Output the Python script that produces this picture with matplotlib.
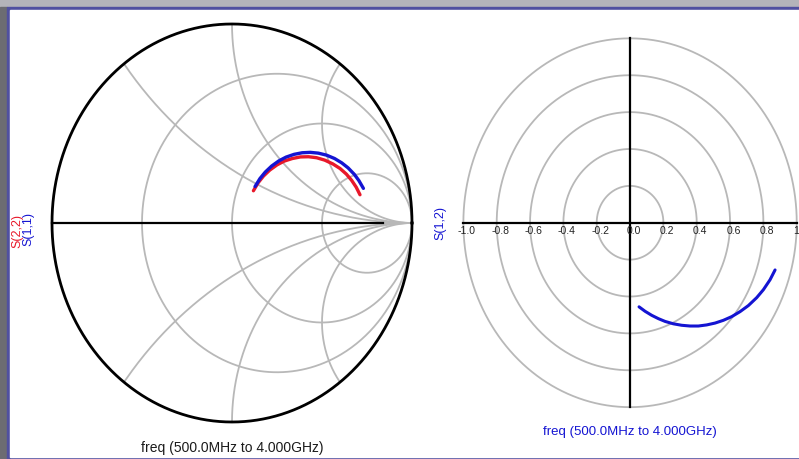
import numpy as np
from matplotlib import pyplot as plt
from matplotlib.patches import Rectangle

plt.rcParams['font.family'] = ['Liberation Sans', 'DejaVu Sans']

# S-parameter traces (reflection coefficient, re / im)
s11_re = [0.128, 0.155, 0.185, 0.220, 0.260, 0.300, 0.345, 0.390, 0.435,
          0.480, 0.525, 0.570, 0.610, 0.645, 0.680, 0.705, 0.730]
s11_im = [0.183, 0.223, 0.256, 0.286, 0.312, 0.331, 0.345, 0.353, 0.355,
          0.351, 0.341, 0.324, 0.302, 0.277, 0.244, 0.213, 0.174]
s22_re = [0.119, 0.145, 0.175, 0.210, 0.250, 0.290, 0.335, 0.380, 0.425,
          0.470, 0.515, 0.560, 0.600, 0.635, 0.665, 0.690, 0.711]
s22_im = [0.162, 0.202, 0.236, 0.266, 0.292, 0.311, 0.324, 0.332, 0.333,
          0.328, 0.316, 0.297, 0.274, 0.246, 0.214, 0.180, 0.142]
s12_re = [0.054, 0.090, 0.130, 0.170, 0.210, 0.260, 0.310, 0.360, 0.410,
          0.460, 0.510, 0.560, 0.610, 0.660, 0.710, 0.760, 0.800, 0.840, 0.870]
s12_im = [-0.456, -0.480, -0.502, -0.520, -0.535, -0.548, -0.556, -0.560, -0.560,
          -0.554, -0.544, -0.529, -0.509, -0.482, -0.449, -0.406, -0.363, -0.309, -0.256]

smith_r = [1 / 3, 1, 3]
smith_x = [0.5, 1, 2]
polar_rings = [0.2, 0.4, 0.6, 0.8, 1.0]
polar_ticks = [-1.0, -0.8, -0.6, -0.4, -0.2, 0.0, 0.2, 0.4, 0.6, 0.8, 1.0]
freq_label = "freq (500.0MHz to 4.000GHz)"

W, H = 799, 459
GRID = '#b8b8b8'
BLUE = '#1414d2'
RED = '#e8182a'


def box(left, top, width, height):
    # pixel box -> figure fraction
    return [left / W, (H - top - height) / H, width / W, height / H]


fig = plt.figure(figsize=(W / 100, H / 100), dpi=100)
fig.patch.set_facecolor('#b4b4ba')
fig.add_artist(Rectangle(box(0, 7, 7, H)[:2], 7 / W, 1, transform=fig.transFigure,
                         color='#6c6c72', zorder=-3))
fig.add_artist(Rectangle(box(7, 7, W, H)[:2], 1, 1, transform=fig.transFigure,
                         color='#5050a0', zorder=-2))
fig.add_artist(Rectangle(box(10, 10, W, H - 12)[:2], 1, (H - 12) / H,
                         transform=fig.transFigure, color='white', zorder=-1))

t = np.linspace(0, 2 * np.pi, 721)

# ---- Smith chart ----
ax = fig.add_axes(box(34, 4.1, 396, 437.8))
ax.set_xlim(-1.1, 1.1)
ax.set_ylim(-1.1, 1.1)
ax.axis('off')
ax.patch.set_alpha(0)

for r in smith_r:
    c, rad = r / (r + 1), 1 / (r + 1)
    ax.plot(c + rad * np.cos(t), rad * np.sin(t), color=GRID, lw=1.3)
for x in smith_x:
    for sgn in (1, -1):
        cx, cy, rad = 1.0, sgn / x, 1 / x
        px, py = cx + rad * np.cos(t), cy + rad * np.sin(t)
        inside = px ** 2 + py ** 2 <= 1.0001
        px, py = np.where(inside, px, np.nan), np.where(inside, py, np.nan)
        ax.plot(px, py, color=GRID, lw=1.3)
ax.plot([0.84, 1], [0, 0], color=GRID, lw=1.3)
ax.plot([-1, 0.84], [0, 0], color='black', lw=1.6)
ax.plot(np.cos(t), np.sin(t), color='black', lw=2)

ax.plot(s22_re, s22_im, color=RED, lw=2.4, solid_capstyle='round')
ax.plot(s11_re, s11_im, color=BLUE, lw=2.4, solid_capstyle='round')

ax.text(0, -1.13, freq_label, ha='center', va='center', fontsize=10,
        color='#1a1a1a', clip_on=False)
ax.text(-1.19, -0.04, "S(2,2)", rotation=90, ha='center', va='center',
        fontsize=9, color=RED, clip_on=False)
ax.text(-1.13, -0.03, "S(1,1)", rotation=90, ha='center', va='center',
        fontsize=9, color=BLUE, clip_on=False)

# ---- polar plot ----
ax2 = fig.add_axes(box(446.7, 19.9, 366.7, 405.7))
ax2.set_xlim(-1.1, 1.1)
ax2.set_ylim(-1.1, 1.1)
ax2.axis('off')
ax2.patch.set_alpha(0)

for rr in polar_rings:
    ax2.plot(rr * np.cos(t), rr * np.sin(t), color=GRID, lw=1.3)
ax2.plot([-1, 1], [0, 0], color='black', lw=1.6)
ax2.plot([0, 0], [-1, 1], color='black', lw=1.6)
for v in polar_ticks:
    ax2.text(v + 0.02, -0.015, "{:.1f}".format(v), ha='center', va='top',
             fontsize=7.5, color='#222222', clip_on=False)

ax2.plot(s12_re, s12_im, color=BLUE, lw=2.2, solid_capstyle='round')

ax2.text(0, -1.135, freq_label, ha='center', va='center', fontsize=9.5,
         color=BLUE, clip_on=False)
ax2.text(-1.14, 0.0, "S(1,2)", rotation=90, ha='center', va='center',
         fontsize=9, color=BLUE, clip_on=False)

fig.savefig('out.png', dpi=100)
